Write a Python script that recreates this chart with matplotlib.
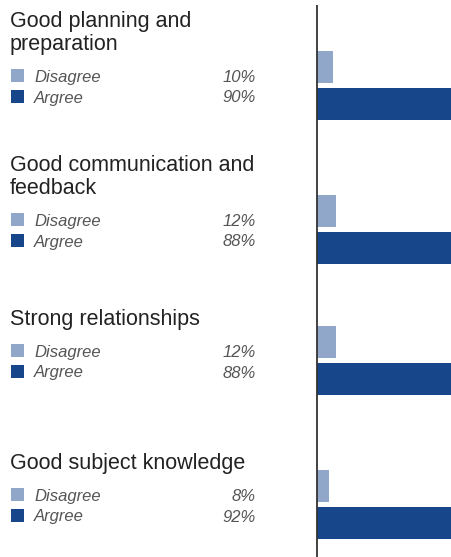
import matplotlib
matplotlib.use("Agg")
import matplotlib.pyplot as plt
from matplotlib.patches import Rectangle

# data
titles = [
    ["Good planning and", "preparation"],
    ["Good communication and", "feedback"],
    ["Strong relationships"],
    ["Good subject knowledge"],
]
disagree = [10, 12, 12, 8]
agree = [90, 88, 88, 92]
labels = ["Disagree", "Argree"]

# layout (pixels from top): baseline of the "Disagree" row of each group
anchors = [82, 226, 357, 501]

light = "#91a7c9"
dark = "#17468b"
text_col = "#222222"
leg_col = "#555555"
font = "Liberation Sans"

W, H = 452, 557
fig = plt.figure(figsize=(W / 100, H / 100), dpi=100)

# text / legend layer in pixel coords
tax = fig.add_axes([0, 0, 1, 1])
tax.set_xlim(0, W)
tax.set_ylim(H, 0)
tax.axis("off")

# bar layer (the long bars run off the right edge)
ax = fig.add_axes([317 / W, 0, (W - 317) / W, 1])
ax.set_xlim(0, 87)
ax.set_ylim(H, 0)
ax.axis("off")

bh = 32
for i, a in enumerate(anchors):
    ax.barh(a - 15.5, disagree[i], height=bh, color=light, linewidth=0)
    ax.barh(a + 21.5, agree[i], height=bh, color=dark, linewidth=0)

    # title lines, last line sits 32 px above the legend row
    lines = titles[i]
    for j, ln in enumerate(lines):
        yb = a - 32 - 23 * (len(lines) - 1 - j)
        tax.text(10, yb, ln, fontsize=15.5, family=font, color=text_col,
                 va="baseline", ha="left")

    rows = [(labels[0], disagree[i], light, a), (labels[1], agree[i], dark, a + 20.5)]
    for lab, v, c, yb in rows:
        tax.add_patch(Rectangle((11, yb - 13), 13.5, 13, color=c, linewidth=0))
        tax.text(34, yb, lab, fontsize=12, family=font, style="italic",
                 color=leg_col, va="baseline", ha="left")
        tax.text(256, yb, f"{v}%", fontsize=12, family=font, style="italic",
                 color=leg_col, va="baseline", ha="right")

ax.vlines(0, 5, H, color="#333333", linewidth=1.3, clip_on=False, zorder=5)

fig.savefig("out.png", dpi=100)
